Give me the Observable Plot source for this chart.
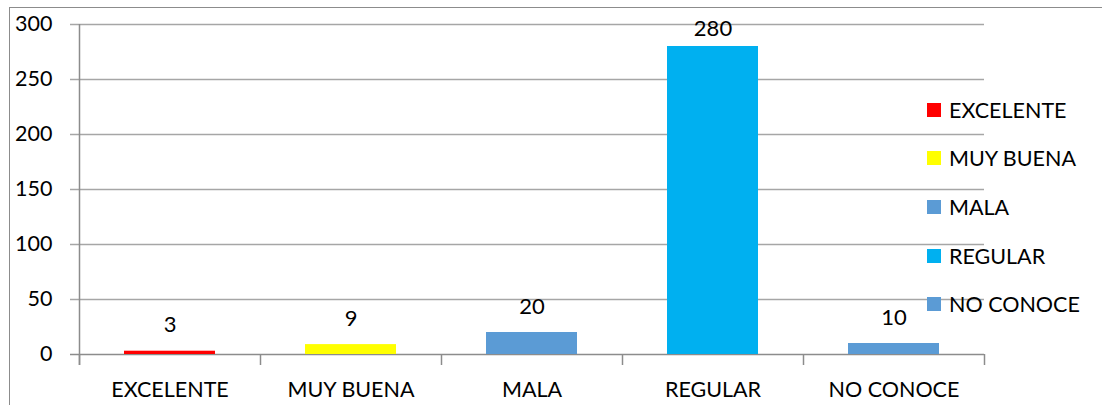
<!DOCTYPE html>
<html>
<head>
<meta charset="utf-8">
<script src="https://cdn.jsdelivr.net/npm/d3@7"></script>
<script src="https://cdn.jsdelivr.net/npm/@observablehq/plot@0.6"></script>
<style>
  html, body { margin: 0; padding: 0; background: #fff; }
  #wrap { position: relative; width: 1102px; height: 405px; overflow: hidden; font-family: Lato, "Open Sans", sans-serif; }
  #frame { position: absolute; left: 9px; top: 7px; width: 1200px; height: 600px; border-left: 1.5px solid #8c8c8c; border-top: 1.5px solid #8c8c8c; box-sizing: border-box; }
  #chart { position: absolute; left: 0; top: 0; }
  #legend { position: absolute; left: 927px; top: 0; }
  .item { position: absolute; left: 0; display: flex; align-items: center; white-space: nowrap; font-size: 21.5px; color: #000; }
  .sw { width: 14px; height: 14px; margin-right: 8px; }
</style>
</head>
<body>
<div id="wrap">
  <div id="frame"></div>
  <div id="chart"></div>
  <div id="legend"></div>
</div>
<script>
const categories = ["EXCELENTE", "MUY BUENA", "MALA", "REGULAR", "NO CONOCE"];
const values = [3, 9, 20, 280, 10];
const colors = ["#ff0000", "#ffff00", "#5b9bd5", "#00b0f0", "#5b9bd5"];
const yTicks = [0, 50, 100, 150, 200, 250, 300];

const data = categories.map((c, i) => ({cat: c, value: values[i], color: colors[i]}));
const lastCat = categories[categories.length - 1];

const chart = Plot.plot({
  width: 1102,
  height: 405,
  marginLeft: 79,
  marginRight: 118,
  marginTop: 24,
  marginBottom: 51,
  style: {fontFamily: "Lato, 'Open Sans', sans-serif", fontSize: "21.5px", color: "#000", background: "transparent", overflow: "visible"},
  x: {domain: categories, paddingInner: 0.5, paddingOuter: 0.25, label: null, tickSize: 0, tickPadding: 27},
  y: {domain: [0, 300], ticks: yTicks, label: null, tickSize: 0, tickPadding: 27},
  color: {type: "identity"},
  marks: [
    Plot.ruleY(yTicks.filter(t => t > 0), {y: d => d, stroke: "#a6a6a6", strokeWidth: 1.5, insetLeft: -9}),
    Plot.ruleY([0], {y: d => d, stroke: "#8c8c8c", strokeWidth: 1.5, insetLeft: -9}),
    Plot.barY(data, {x: "cat", y: "value", fill: "color"}),
    Plot.ruleX(categories.slice(0, 1), {x: d => d, dx: -90.5, y1: -10, y2: 300, stroke: "#8c8c8c", strokeWidth: 1.5}),
    Plot.ruleX(categories, {x: d => d, dx: -90.5, y1: -10, y2: 0, stroke: "#8c8c8c", strokeWidth: 1.5}),
    Plot.ruleX([lastCat], {x: d => d, dx: 90.5, y1: -10, y2: 0, stroke: "#8c8c8c", strokeWidth: 1.5}),
    Plot.text(data.filter(d => d.value < 250), {x: "cat", y: "value", text: d => String(d.value), dy: -26, fontSize: 22, fill: "#000"}),
    Plot.text(data.filter(d => d.value >= 250), {x: "cat", y: "value", text: d => String(d.value), dy: -18, fontSize: 22, fill: "#000"})
  ]
});
document.getElementById("chart").appendChild(chart);

const legend = document.getElementById("legend");
const legendTop = [110, 158, 207, 256, 304];
categories.forEach((c, i) => {
  const item = document.createElement("div");
  item.className = "item";
  item.style.top = (legendTop[i] - 13) + "px";
  item.style.height = "26px";
  const sw = document.createElement("div");
  sw.className = "sw";
  sw.style.background = colors[i];
  const t = document.createElement("span");
  t.textContent = c;
  item.appendChild(sw);
  item.appendChild(t);
  legend.appendChild(item);
});
</script>
</body>
</html>
